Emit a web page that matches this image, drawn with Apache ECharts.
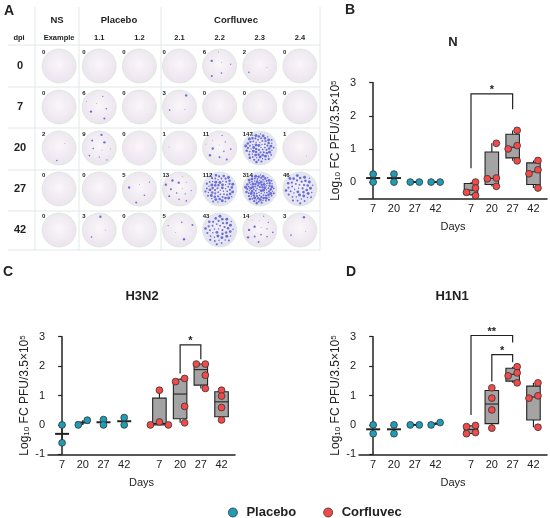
<!DOCTYPE html>
<html>
<head>
<meta charset="utf-8">
<script src="https://cdn.jsdelivr.net/npm/echarts@6/dist/echarts.min.js"></script>
<style>
html,body{margin:0;padding:0;background:#fff}
#chart{width:550px;height:518px}
</style>
</head>
<body>
<div id="chart"></div>
<script>
// panel A: plaque counts per well
const dpiRows=['0','7','20','27','42'];
const wellCols=['Example','1.1','1.2','2.1','2.2','2.3','2.4'];
const plaqueCounts=[
 [0,0,0,0,6,2,0],
 [0,6,0,3,0,0,0],
 [2,9,0,1,11,147,1],
 [0,0,5,13,112,314,46],
 [0,3,0,5,43,14,3]
];

// panels B-D: log10 fold change per animal
const days=['7','20','27','42','7','20','27','42'];
const nPlacebo=[[0.24,0],[0.24,0],[0,0],[0,0]];
const nCorfluvec=[[0,-0.18,-0.31,-0.41],[1.17,0.12,0.10,-0.13],[1.56,1.10,1.0,0.64],[0.65,0.37,0.25,-0.18]];
const h3Placebo=[[0,-0.61],[0.16,0],[0.18,0],[0.25,0]];
const h3Corfluvec=[[1.18,0.1,0,0],[1.58,1.47,0.63,0.07],[2.07,2.07,1.69,1.24],[1.18,0.98,0.59,0.17]];
const h1Placebo=[[0,-0.3],[0,-0.3],[0,0],[0.08,0]];
const h1Corfluvec=[[-0.02,-0.06,-0.26,-0.3],[1.26,0.91,0.51,-0.11],[1.98,1.77,1.67,1.43],[1.43,0.99,0.91,-0.08]];
const nTicks=[0,1,2,3];
const fluTicks=[-1,0,1,2,3];
// brackets: [from group, to group, top, left end, right end, mark]
const nSig=[[4,6,2.66,0.42,2.2,'*']];
const h3Sig=[[5,6,2.72,1.75,2.23,'*']];
const h1Sig=[[4,6,3.04,0.34,2.8,'**'],[5,6,2.39,1.48,2.13,'*']];

const FONT='"Liberation Sans", Arial, sans-serif';
const INK='#222';
const PLACEBO_C='#1f9db6';
const CORF_C='#f24a4a';
const BOX_FILL='#a4a4a4';
const BOX_W=13.5, DOT_R=3.4, DOT_GAP=9, DOT_NEAR=5.2;
// second group sits a bit further right
const xPos=days.map((d,i)=>i+(i>=4?0.7:0));

function quant(s,p){
 const n=s.length,pos=p*(n+1);
 if(pos<=1)return s[0];
 if(pos>=n)return s[n-1];
 const i=Math.floor(pos);
 return s[i-1]+(pos-i)*(s[i]-s[i-1]);
}
// spread points sideways only when they sit almost on top of each other
function swarm(ys){
 const order=ys.map((y,i)=>i).sort((a,b)=>ys[a]-ys[b]);
 const off=ys.map(()=>0),placed=[];
 order.forEach(i=>{
  for(let k=0;k<80;k++){
   const dx=(k%2?-1:1)*Math.ceil(k/2)*0.5;
   if(placed.every(j=>Math.abs(ys[j]-ys[i])>=DOT_NEAR||Math.abs(off[j]-dx)>=DOT_GAP)){off[i]=dx;break;}
  }
  placed.push(i);
 });
 const lo=Math.min(...off),hi=Math.max(...off);
 return off.map(o=>o-(lo+hi)/2);
}
function ln(x1,y1,x2,y2,w){
 return {type:'line',shape:{x1,y1,x2,y2},style:{stroke:INK,lineWidth:w}};
}

function groupSeries(name,gi,groups,color,boxed,first){
 return {
  type:'custom',name,xAxisIndex:gi,yAxisIndex:gi,z:3,
  itemStyle:{color},
  data:groups.map((g,i)=>[xPos[i+first],i]),
  renderItem(params,api){
   const vals=groups[params.dataIndex];
   const x=api.value(0);
   const cx=api.coord([x,0])[0];
   const py=v=>api.coord([x,v])[1];
   const s=vals.slice().sort((a,b)=>a-b);
   const ch=[];
   if(boxed){
    const q1=py(quant(s,0.25)),q3=py(quant(s,0.75)),md=py(quant(s,0.5));
    ch.push(ln(cx,py(s[s.length-1]),cx,q3,1.2));
    ch.push(ln(cx,q1,cx,py(s[0]),1.2));
    ch.push({type:'rect',shape:{x:cx-BOX_W/2,y:q3,width:BOX_W,height:q1-q3},
     style:{fill:BOX_FILL,stroke:INK,lineWidth:1.1}});
    ch.push(ln(cx-BOX_W/2,md,cx+BOX_W/2,md,1.1));
   }else{
    const md=py(quant(s,0.5));
    ch.push(ln(cx,py(s[0]),cx,py(s[s.length-1]),1.4));
    ch.push(ln(cx-7,md,cx+7,md,2));
   }
   const ys=vals.map(py),off=swarm(ys);
   vals.forEach((v,i)=>ch.push({type:'circle',shape:{cx:cx+off[i],cy:ys[i],r:DOT_R},
    style:{fill:color,stroke:'#333',lineWidth:0.8}}));
   return {type:'group',children:ch};
  }
 };
}

function sigSeries(gi,sig){
 return {
  type:'custom',xAxisIndex:gi,yAxisIndex:gi,z:2,silent:true,
  data:sig.map(b=>[xPos[b[0]],b[2],xPos[b[1]],b[3],b[4]]),
  renderItem(params,api){
   const a=api.coord([api.value(0),api.value(1)]),b=api.coord([api.value(2),api.value(1)]);
   const l=api.coord([api.value(0),api.value(3)]),r=api.coord([api.value(2),api.value(4)]);
   return {type:'group',children:[
    {type:'polyline',shape:{points:[l,a,b,r]},style:{stroke:INK,lineWidth:1.2,fill:'none'}},
    {type:'text',style:{text:sig[params.dataIndex][5],x:(a[0]+b[0])/2,y:a[1]-4,align:'center',
     verticalAlign:'middle',fontSize:11,fontWeight:'bold',fontFamily:FONT,fill:INK}}
   ]};
  }
 };
}

const wellData=[];
plaqueCounts.forEach((row,r)=>row.forEach((c,k)=>wellData.push([k,r,c])));

function wellSeries(){
 return {
  type:'custom',xAxisIndex:3,yAxisIndex:3,silent:true,
  data:wellData,
  renderItem(params,api){
   const p=api.coord([api.value(0),api.value(1)]);
   const n=api.value(2),R=17;
   const dense=n>=40;
   const ch=[{type:'circle',shape:{cx:p[0],cy:p[1],r:R},style:{
    fill:{type:'radial',x:0.5,y:0.45,r:0.55,colorStops:[
     {offset:0,color:dense?'#f3f0f9':'#faf6f9'},{offset:1,color:dense?'#e2dff2':'#ebe3ee'}]},
    stroke:'#d6ead6',lineWidth:0.8}}];
   const cnt=n<=20?n:Math.round(20+Math.sqrt(n-20)*4.5);
   for(let i=0;i<cnt;i++){
    const rr=R*0.86*Math.sqrt((i+0.5)/cnt);
    const ang=i*2.39996+params.dataIndex*1.3;
    const big=n>=40?0.3:0;
    ch.push({type:'circle',shape:{cx:p[0]+rr*Math.cos(ang),cy:p[1]+rr*Math.sin(ang),r:0.45+big+((i*7)%5)*0.18},
     style:{fill:'rgba(72,80,205,0.8)'}});
   }
   ch.push({type:'text',style:{text:String(n),x:p[0]-17,y:p[1]-14,align:'left',verticalAlign:'middle',
    fontSize:6,fontWeight:'bold',fontFamily:FONT,fill:INK}});
   return {type:'group',children:ch};
  }
 };
}

const yName='{a|Log}{b|10}{a| FC PFU/3.5×10}{c|5}';
const yRich={
 a:{fontSize:12,lineHeight:12,fontFamily:FONT,color:INK},
 b:{fontSize:8,lineHeight:6,verticalAlign:'bottom',fontFamily:FONT,color:INK},
 c:{fontSize:8,lineHeight:6,verticalAlign:'top',fontFamily:FONT,color:INK}
};
function xAx(gi){
 return {type:'value',gridIndex:gi,min:-0.68,max:8.35,
  axisLine:{onZero:false,lineStyle:{color:INK,width:1.5}},
  axisTick:{show:false},splitLine:{show:false},
  axisLabel:{customValues:xPos,fontSize:11,color:INK,margin:5,fontFamily:FONT,
   formatter:v=>days[xPos.findIndex(p=>Math.abs(p-v)<1e-6)]||''},
  name:'Days',nameLocation:'middle',nameGap:23,
  nameTextStyle:{fontSize:11,color:INK,fontFamily:FONT}};
}
function yAx(gi,min,max,ticks){
 return {type:'value',gridIndex:gi,min,max,
  axisLine:{show:true,lineStyle:{color:INK,width:1.5}},
  axisTick:{show:true,length:4,customValues:ticks,lineStyle:{color:INK,width:1.2}},
  axisLabel:{customValues:ticks,fontSize:11,color:INK,margin:3,fontFamily:FONT},
  splitLine:{show:false},
  name:yName,nameLocation:'middle',nameRotate:90,nameGap:17,
  nameTextStyle:{rich:yRich}};
}

const LINE_C='#e1e8e8';
const tableLines=[];
[45,87,128,170,211,250].forEach(y=>tableLines.push({type:'line',shape:{x1:8,y1:y,x2:320,y2:y},style:{stroke:LINE_C,lineWidth:1}}));
[35,79,161,320].forEach(x=>tableLines.push({type:'line',shape:{x1:x,y1:7,x2:x,y2:250},style:{stroke:LINE_C,lineWidth:1}}));
function txt(text,x,y,size,bold,align){
 return {type:'text',x,y,style:{text,align:align||'center',verticalAlign:'middle',
  font:(bold?'bold ':'')+size+'px '+FONT,fill:INK}};
}

const chart=echarts.init(document.getElementById('chart'));
chart.setOption({
 animation:false,
 backgroundColor:'#fff',
 grid:[
  {left:359,top:82.7,width:188,height:115.9},
  {left:48,top:336.7,width:187,height:117.6},
  {left:359,top:336.7,width:188,height:117.6},
  {left:39,top:45.5,width:281,height:205}
 ],
 xAxis:[xAx(0),xAx(1),xAx(2),
  {type:'category',gridIndex:3,data:wellCols,position:'top',
   axisLine:{show:false},axisTick:{show:false},splitLine:{show:false},
   axisLabel:{fontSize:7.5,fontWeight:'bold',color:INK,margin:4,fontFamily:FONT}}],
 yAxis:[yAx(0,-0.5,3,nTicks),yAx(1,-1,3,fluTicks),yAx(2,-1,3,fluTicks),
  {type:'category',gridIndex:3,data:dpiRows,inverse:true,
   axisLine:{show:false},axisTick:{show:false},splitLine:{show:false},
   axisLabel:{fontSize:11,fontWeight:'bold',color:INK,align:'center',margin:19,fontFamily:FONT}}],
 legend:{left:223,top:501,itemWidth:9,itemHeight:9,itemGap:27,icon:'circle',
  textStyle:{fontSize:13,fontWeight:'bold',color:INK,fontFamily:FONT,padding:[0,0,0,4]},
  data:[{name:'Placebo',itemStyle:{color:PLACEBO_C,borderColor:'#333',borderWidth:0.8}},
   {name:'Corfluvec',itemStyle:{color:CORF_C,borderColor:'#333',borderWidth:0.8}}]},
 graphic:tableLines.concat([
  txt('A',4,11,14,true,'left'),
  txt('B',345,10,14,true,'left'),
  txt('C',3,272,14,true,'left'),
  txt('D',346,272,14,true,'left'),
  txt('N',453,42,13,true),
  txt('H3N2',142,296,13,true),
  txt('H1N1',452,296,13,true),
  txt('NS',57,20,9.5,true),
  txt('Placebo',119,20,9.5,true),
  txt('Corfluvec',236,20,9.5,true),
  txt('dpi',19,38,7.5,true)
 ]),
 series:[
  wellSeries(),
  sigSeries(0,nSig),sigSeries(1,h3Sig),sigSeries(2,h1Sig),
  groupSeries('Placebo',0,nPlacebo,PLACEBO_C,false,0),
  groupSeries('Corfluvec',0,nCorfluvec,CORF_C,true,4),
  groupSeries('Placebo',1,h3Placebo,PLACEBO_C,false,0),
  groupSeries('Corfluvec',1,h3Corfluvec,CORF_C,true,4),
  groupSeries('Placebo',2,h1Placebo,PLACEBO_C,false,0),
  groupSeries('Corfluvec',2,h1Corfluvec,CORF_C,true,4)
 ]
});
</script>
</body>
</html>
